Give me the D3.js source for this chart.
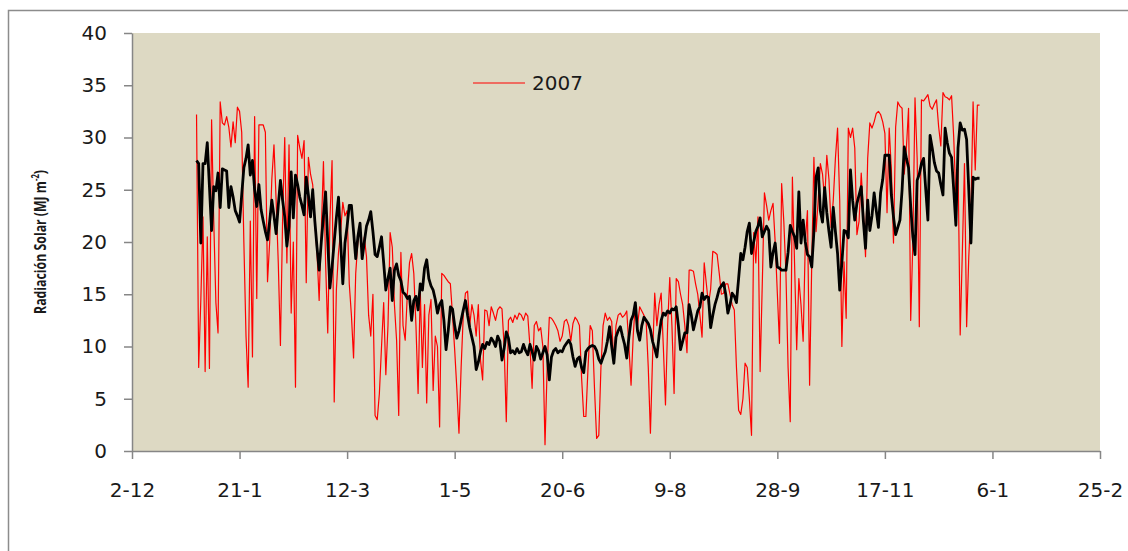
<!DOCTYPE html>
<html>
<head>
<meta charset="utf-8">
<script src="https://cdn.jsdelivr.net/npm/d3@7"></script>
<style>
body { margin: 0; background: #fff; }
svg { display: block; }
</style>
</head>
<body>
<div id="chart"></div>
<script>
// daily values, 1 Jan 2007 onwards
var startDate = "2007-01-01";

// red series (legend "2007")
var rad2007 = [
  32.2, 8.0, 14.5, 22.4, 7.6, 20.5, 7.9, 31.7, 22.0, 14.2,
  11.3, 33.4, 31.4, 31.2, 32.0, 31.0, 29.1, 31.5, 29.5, 32.9,
  32.5, 30.5, 20.0, 11.0, 6.1, 22.0, 9.0, 32.0, 14.6, 31.2,
  31.2, 31.2, 30.5, 16.2, 20.0, 26.0, 29.3, 24.0, 18.0, 10.1,
  22.0, 30.0, 18.0, 29.3, 13.2, 20.0, 6.1, 30.2, 29.0, 28.0,
  29.7, 16.1, 28.1, 26.5, 25.5, 22.0, 19.0, 14.4, 21.0, 27.7,
  18.0, 11.3, 22.0, 27.8, 4.7, 15.4, 19.0, 21.0, 23.8, 22.5,
  23.0, 16.0, 13.0, 8.9, 17.0, 20.0, 21.5, 19.0, 20.5, 18.6,
  13.0, 11.0, 15.0, 3.4, 3.0, 5.5, 10.0, 14.2, 7.3, 12.0,
  20.9, 19.5, 14.0, 10.6, 3.4, 19.0, 12.0, 10.6, 15.0, 18.0,
  18.9, 17.0, 12.0, 5.5, 15.4, 8.0, 14.0, 4.6, 13.0, 14.5,
  5.8, 11.0, 10.0, 2.3, 17.0, 16.8, 16.5, 16.2, 16.0, 13.0,
  9.7, 6.0, 1.7, 8.0, 13.0, 15.1, 15.3, 12.0, 14.0, 13.0,
  11.0, 14.0, 8.7, 6.8, 13.5, 13.4, 12.0, 13.8, 13.2, 12.5,
  13.5, 13.8, 13.6, 10.0, 2.8, 12.5, 12.8, 12.3, 13.0, 12.6,
  13.2, 13.0, 12.5, 13.2, 12.9, 10.0, 6.0, 12.0, 12.4, 11.5,
  11.8, 10.0, 0.6, 8.0, 12.8, 12.7, 12.4, 12.0, 11.5, 10.5,
  11.0, 12.4, 12.6, 12.0, 10.5, 12.2, 12.8, 12.5, 12.0, 7.0,
  3.3, 3.3, 8.0, 12.0, 11.5, 6.0, 1.2, 1.5, 8.0, 12.0,
  13.2, 12.5, 12.8, 12.4, 8.4, 12.0, 13.0, 13.2, 12.8, 13.0,
  13.4, 10.0, 6.3, 11.0, 14.2, 12.0, 13.8, 13.4, 13.0, 12.5,
  8.0, 1.7, 9.0, 15.1, 12.0, 14.0, 15.1, 10.0, 4.4, 12.0,
  16.6, 12.0, 5.5, 16.5, 16.2, 15.0, 14.0, 12.0, 9.4, 17.3,
  17.3, 17.2, 16.0, 15.0, 13.0, 10.9, 18.0, 16.0, 14.0, 15.5,
  19.1, 19.0, 18.8, 17.0, 15.0, 15.1, 16.0, 16.0, 15.0, 14.0,
  13.5, 8.0, 3.9, 3.5, 5.0, 8.4, 8.0, 5.0, 1.5, 20.9,
  18.0, 22.4, 7.6, 16.0, 24.7, 23.5, 22.1, 23.0, 23.7, 20.0,
  15.1, 10.3, 25.6, 22.0, 17.0, 8.0, 2.8, 26.2, 18.0, 9.7,
  16.5, 14.0, 10.5, 20.0, 23.0, 6.3, 18.0, 28.1, 21.0, 24.0,
  27.5, 26.5, 24.0, 28.3, 26.0, 21.4, 24.0, 28.0, 30.9, 24.0,
  10.0, 18.1, 12.7, 30.9, 30.0, 30.9, 29.0, 20.7, 22.0, 26.6,
  23.0, 18.6, 28.0, 31.4, 30.9, 31.5, 32.3, 32.5, 32.2, 31.5,
  30.4, 22.8, 30.9, 27.0, 19.9, 31.0, 33.4, 33.0, 32.8, 26.5,
  29.0, 32.8, 12.5, 20.0, 33.8, 28.0, 11.9, 33.6, 33.5, 33.8,
  34.1, 33.0, 32.7, 33.2, 33.6, 31.0, 29.2, 34.3, 33.9, 33.8,
  33.6, 34.0, 30.0, 24.3, 27.5, 11.1, 19.0, 27.5, 11.9, 18.6,
  23.0, 33.4, 26.9, 33.1, 33.1
];

// black series (no legend entry)
var radBlack = [
  27.8, 27.5, 19.9, 27.5, 27.5, 29.5, 25.3, 21.1, 25.3, 24.9,
  26.6, 23.3, 27.0, 26.9, 26.8, 23.3, 25.3, 24.3, 23.0, 22.5,
  21.9, 24.5, 27.1, 28.0, 29.3, 26.4, 27.8, 25.0, 23.4, 25.5,
  23.1, 22.0, 21.0, 20.2, 22.0, 24.0, 22.5, 20.8, 23.5, 25.9,
  24.0, 22.4, 19.6, 21.5, 26.7, 22.3, 26.4, 25.5, 24.3, 23.5,
  22.6, 26.2, 24.5, 22.4, 25.0, 22.0, 19.5, 17.3, 20.0, 22.5,
  24.8, 20.0, 15.6, 17.6, 20.0, 22.3, 24.3, 20.0, 16.0, 19.9,
  21.5, 23.5, 23.5, 21.0, 18.4, 20.5, 21.8, 18.4, 20.0, 21.5,
  22.1, 22.9, 21.0, 18.8, 18.6, 19.5, 20.5, 18.0, 15.4, 16.5,
  17.5, 14.4, 17.3, 17.9, 16.8, 16.3, 15.2, 15.0, 14.6, 14.8,
  12.5, 14.4, 14.8, 13.5, 16.0, 15.4, 17.5, 18.3, 16.5, 15.8,
  15.4, 14.5, 13.2, 14.0, 14.4, 12.5, 9.7, 11.5, 13.8, 13.6,
  12.0, 10.8, 11.5, 12.5, 13.5, 14.4, 13.0, 11.8, 10.9, 10.0,
  7.8, 8.5, 9.5, 10.2, 9.8, 10.4, 10.2, 10.8, 10.5, 10.0,
  11.0, 10.5, 8.7, 9.8, 11.4, 10.8, 9.4, 9.6, 9.3, 9.8,
  9.4, 9.5, 10.2, 9.6, 9.2, 10.2, 9.5, 8.7, 10.0, 9.6,
  8.8, 9.4, 10.0, 9.2, 6.8, 9.0, 9.6, 9.8, 9.4, 9.6,
  9.5, 10.0, 10.3, 10.6, 10.2, 9.0, 8.1, 8.8, 9.0, 8.0,
  7.5, 9.5, 9.8, 10.0, 10.1, 10.0, 9.6, 8.8, 8.4, 9.0,
  9.5, 10.5, 11.9, 10.0, 8.4, 10.9, 11.5, 11.9, 11.0, 10.2,
  8.9, 10.9, 12.5, 13.0, 14.2, 11.5, 10.6, 12.0, 12.8, 12.5,
  12.2, 11.6, 10.5, 9.8, 9.0, 11.0, 12.5, 13.2, 13.0, 13.4,
  13.2, 13.6, 13.5, 13.8, 12.0, 9.7, 10.5, 11.3, 11.3, 14.0,
  13.0, 11.6, 12.5, 13.4, 13.8, 15.1, 14.5, 14.8, 14.7, 11.8,
  13.0, 14.0, 14.7, 15.5, 15.8, 16.1, 15.0, 13.2, 14.0, 15.1,
  14.8, 14.2, 16.5, 18.9, 18.3, 19.5, 21.0, 21.8, 18.9, 20.0,
  21.0, 21.5, 22.3, 20.5, 21.0, 21.5, 21.1, 17.6, 19.0, 19.9,
  17.6, 17.5, 17.3, 17.3, 17.3, 19.0, 21.6, 21.0, 20.5, 19.4,
  24.8, 19.9, 22.1, 20.0, 18.8, 18.6, 17.6, 21.0, 26.2, 27.1,
  23.0, 21.9, 25.2, 22.8, 21.0, 19.5, 23.3, 21.0, 18.9, 15.4,
  18.0, 21.1, 21.0, 20.4, 26.9, 24.0, 22.1, 23.7, 24.5, 25.3,
  22.0, 19.4, 24.0, 21.1, 22.5, 24.7, 23.0, 21.4, 24.7, 26.0,
  28.3, 28.3, 28.3, 24.5, 22.4, 20.7, 21.4, 22.1, 25.0, 29.1,
  28.0, 27.1, 23.4, 20.5, 18.8, 25.9, 26.5, 27.5, 28.0, 25.0,
  22.1, 30.2, 29.0, 27.6, 26.8, 26.6, 25.5, 24.5, 30.9, 29.5,
  28.5, 28.1, 25.0, 21.6, 29.0, 31.4, 30.7, 30.8, 29.8, 25.0,
  19.9, 26.2, 26.0, 26.1, 26.1
];

var xTickDates = ["2006-12-02", "2007-01-21", "2007-03-12", "2007-05-01", "2007-06-20",
                  "2007-08-09", "2007-09-28", "2007-11-17", "2008-01-06", "2008-02-25"];
var yTicks = [0, 5, 10, 15, 20, 25, 30, 35, 40];
var legendLabel = "2007";

function drawChart() {
	var width = 1128;
	var height = 551;
	var plot = {left: 132, right: 1100, top: 33, bottom: 451};
	var axisColor = "#868686";
	var font = "'DejaVu Sans', sans-serif";

	var parseDate = d3.utcParse("%Y-%m-%d");
	var start = parseDate(startDate);
	var dayOf = function(i) { return d3.utcDay.offset(start, i); };

	var x = d3.scaleUtc()
		.domain([parseDate(xTickDates[0]), parseDate(xTickDates[xTickDates.length - 1])])
		.range([plot.left, plot.right]);
	var y = d3.scaleLinear()
		.domain([0, 40])
		.range([plot.bottom, plot.top]);

	var svg = d3.select("#chart").append("svg")
		.attr("width", width)
		.attr("height", height);

	// outer chart border
	svg.append("rect")
		.attr("x", 8.5).attr("y", 10.5)
		.attr("width", 1200).attr("height", 700)
		.attr("fill", "#fff")
		.attr("stroke", "#8c8c8c")
		.attr("stroke-width", 1.5);

	// plot background
	svg.append("rect")
		.attr("x", plot.left).attr("y", plot.top)
		.attr("width", plot.right - plot.left)
		.attr("height", plot.bottom - plot.top)
		.attr("fill", "#ddd9c3");

	var line = d3.line()
		.x(function(d, i) { return x(dayOf(i)); })
		.y(function(d) { return y(d); });

	svg.append("path")
		.datum(rad2007)
		.attr("d", line)
		.attr("fill", "none")
		.attr("stroke", "#ff0000")
		.attr("stroke-width", 1.2)
		.attr("stroke-linejoin", "round");

	svg.append("path")
		.datum(radBlack)
		.attr("d", line)
		.attr("fill", "none")
		.attr("stroke", "#000")
		.attr("stroke-width", 2.8)
		.attr("stroke-linejoin", "round");

	// axes
	var yAxis = svg.append("g")
		.attr("transform", "translate(" + plot.left + ",0)")
		.call(d3.axisLeft(y).tickValues(yTicks).tickSize(8).tickSizeOuter(0).tickPadding(17));

	var xAxis = svg.append("g")
		.attr("transform", "translate(0," + plot.bottom + ")")
		.call(d3.axisBottom(x)
			.tickValues(xTickDates.map(parseDate))
			.tickFormat(d3.utcFormat("%-d-%-m"))
			.tickSize(8).tickSizeOuter(0).tickPadding(24));

	[yAxis, xAxis].forEach(function(g) {
		g.select(".domain").attr("stroke", axisColor).attr("stroke-width", 1.5);
		g.selectAll(".tick line").attr("stroke", axisColor).attr("stroke-width", 1.5);
		g.selectAll(".tick text")
			.attr("fill", "#1a1a1a")
			.style("font-family", font)
			.style("font-size", "20px");
	});

	// y title, squeezed to the reference length
	var title = svg.append("text")
		.attr("text-anchor", "middle")
		.style("font-family", "'Open Sans', sans-serif")
		.style("font-weight", "bold")
		.style("font-size", "16px")
		.attr("fill", "#1a1a1a");
	title.append("tspan").text("Radiación Solar (MJ m");
	title.append("tspan").attr("dy", -7).style("font-size", "10px").text("-2");
	title.append("tspan").attr("dy", 7).text(")");
	var tw = title.node().getComputedTextLength();
	title.attr("transform", "translate(46,242) rotate(-90) scale(" + (144 / tw) + ",1)");

	// legend
	var legend = svg.append("g").attr("transform", "translate(473,83)");
	legend.append("line")
		.attr("x1", 0).attr("x2", 52)
		.attr("stroke", "#ff0000")
		.attr("stroke-width", 1.2);
	legend.append("text")
		.attr("x", 59).attr("dy", "0.36em")
		.attr("fill", "#1a1a1a")
		.style("font-family", font)
		.style("font-size", "20px")
		.text(legendLabel);
}

drawChart();
</script>
</body>
</html>
